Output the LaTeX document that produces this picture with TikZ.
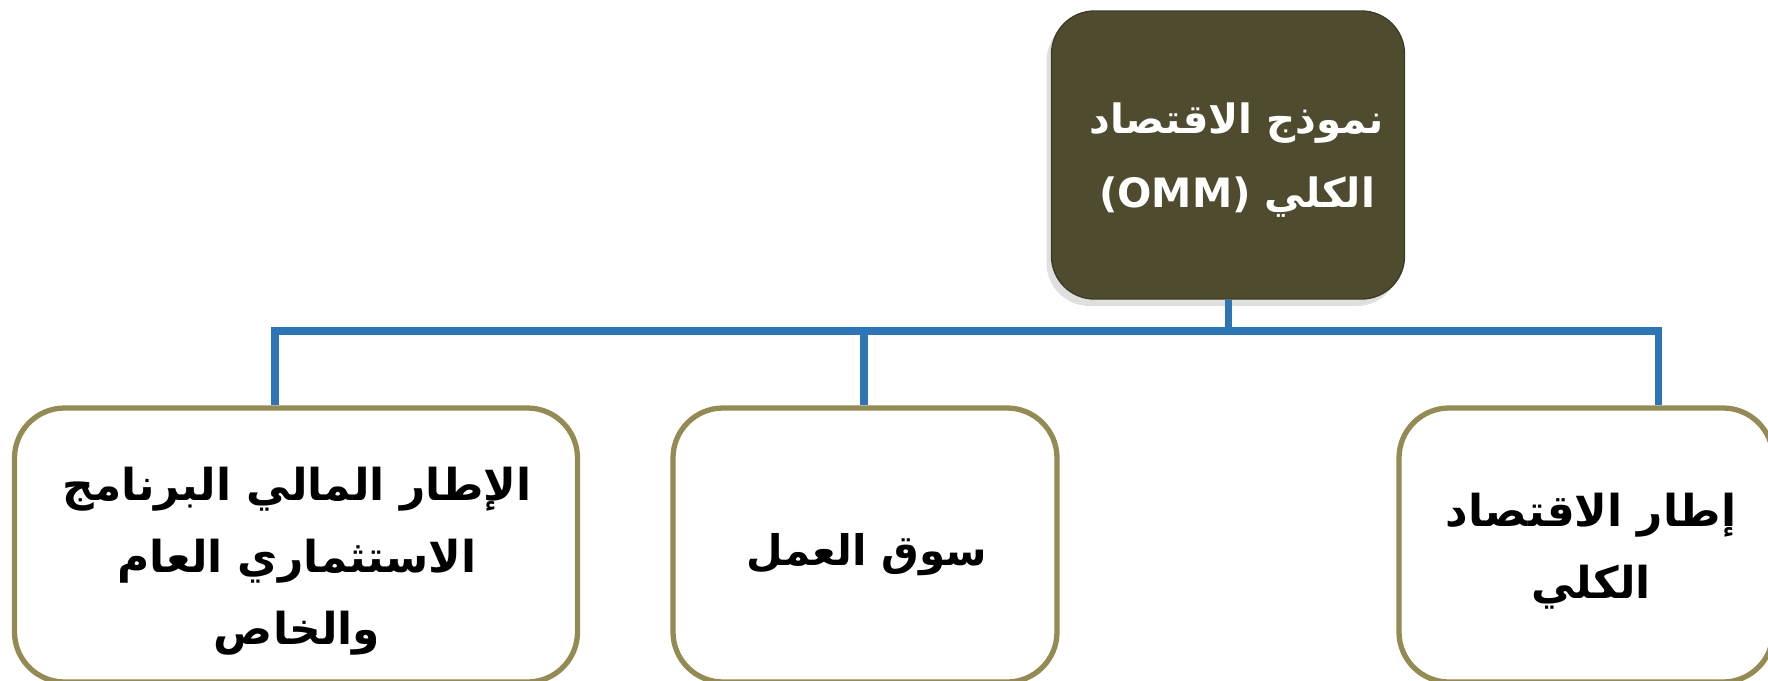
\documentclass[tikz,border=0pt]{standalone}
\usepackage{fontspec}
\usepackage{tikz}
\usetikzlibrary{shapes,shadows}
\TeXXeTstate=1
\newfontfamily\arabicfont[Script=Arabic]{DejaVu Sans}
\definecolor{ommfill}{RGB}{79,75,47}
\definecolor{boxline}{RGB}{148,138,84}
\definecolor{busblue}{RGB}{46,117,182}
\newcommand{\busw}{2pt}
\newcommand{\boxw}{1.5pt}

\begin{document}
\begin{tikzpicture}[x=0.1mm,y=-0.1mm]
    %\draw[help lines] (0,0) grid[step=100] (1768,680);
    \useasboundingbox (0,0) rectangle (1768,680);
    \clip (0,0) rectangle (1768,680);
    \tikzset{
        txt/.style = {font=\arabicfont\bfseries\fontsize{12.5pt}{20.5pt}\selectfont, align=center},
        topbox/.style = {rectangle, rounded corners=4.3mm, fill=ommfill, draw=ommfill!80!black,
            minimum width=35.3mm, minimum height=28.8mm, inner sep=0pt,
            drop shadow={opacity=0.25, shadow xshift=-0.5mm, shadow yshift=-0.7mm}},
        subbox/.style = {rectangle, rounded corners=5mm, draw=boxline, line width=\boxw,
            fill=white, minimum height=27.4mm},
        bus/.style = {draw=busblue, line width=\busw}
    }
    \node[topbox] (omm) at (1228,155) {};
    \node[txt, text=white, font=\arabicfont\bfseries\fontsize{11.5pt}{21pt}\selectfont]
        (ommtxt) at (1237,160) {\beginR نموذج الاقتصاد\endR\\\beginR الكلي \beginL(OMM)\endL\endR};

    \node[subbox, minimum width=56.3mm] (fin) at (296,545) {};
    \node[subbox, minimum width=38.4mm] (labour) at (865,545) {};
    \node[subbox, minimum width=37.4mm] (macro) at (1586,545) {};

    \node[txt] (fintxt) at (297,561) {\beginR الإطار المالي البرنامج\endR\\\beginR الاستثماري العام\endR\\\beginR والخاص\endR};
    \node[txt, font=\arabicfont\bfseries\fontsize{12pt}{20.5pt}\selectfont] (labtxt) at (867,555) {\beginR سوق العمل\endR};
    \node[txt] (mactxt) at (1591,551) {\beginR إطار الاقتصاد\endR\\\beginR الكلي\endR};

    \coordinate (d1) at (275,331);
    \coordinate (d2) at (864,331);
    \coordinate (d3) at (1658,331);

    \draw[bus] (omm.south) -- (omm.south |- d1);
    \draw[bus] (d1 |- fin.north) -- (d1) -- (d3) -- (d3 |- macro.north);
    \draw[bus] (d2) -- (d2 |- labour.north);
\end{tikzpicture}
\end{document}
